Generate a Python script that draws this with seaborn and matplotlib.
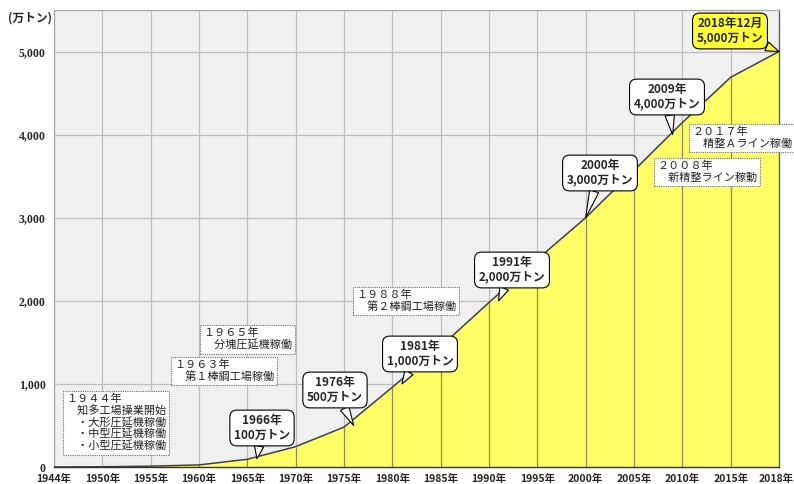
import numpy as np
import pandas as pd
import matplotlib
matplotlib.use("Agg")
import matplotlib.pyplot as plt
import matplotlib.transforms as mtransforms
import seaborn as sns

# ---------------- data ----------------
cat_years = [1944, 1950, 1955, 1960, 1965, 1970, 1975, 1980, 1985, 1990,
             1995, 2000, 2005, 2010, 2015, 2018]
cat_labels = [f"{y}年" for y in cat_years]
production = [0, 3, 10, 25, 93, 245, 480, 960, 1450, 1980,
              2500, 3000, 3570, 4145, 4690, 5000]   # 累計生産量 (万トン)

y_ticks = [0, 1000, 2000, 3000, 4000, 5000]

milestone_years = [1966, 1976, 1981, 1991, 2000, 2009, 2018]
milestone_values = [100, 500, 1000, 2000, 3000, 4000, 5000]
milestone_labels = ["1966年\n100万トン", "1976年\n500万トン", "1981年\n1,000万トン",
                    "1991年\n2,000万トン", "2000年\n3,000万トン", "2009年\n4,000万トン",
                    "2018年12月\n5,000万トン"]

event_labels = [
    "１９４４年\n　知多工場操業開始\n　・大形圧延機稼働\n　・中型圧延機稼働\n　・小型圧延機稼働",
    "１９６３年\n　第１棒鋼工場稼働",
    "１９６５年\n　分塊圧延機稼働",
    "１９８８年\n　第２棒鋼工場稼働",
    "２００８年\n　新精整ライン稼動",
    "２０１７年\n　精整Ａライン稼働",
]

# ---------------- layout (pixels, top-left origin) ----------------
W, H = 794, 484
callout_centers = [(262, 428), (335, 390), (420, 354), (512, 270),
                   (600, 173), (667, 97), (730, 31)]
event_topleft = [(66, 394), (174, 360), (203, 328), (356, 290), (657, 161), (692, 127)]

sns.set_theme(style="white")
plt.rcParams['font.family'] = ['Noto Sans CJK JP', 'DejaVu Sans']

fig = plt.figure(figsize=(W / 100, H / 100), dpi=100)
ax = fig.add_axes([54 / W, 17 / H, 725 / W, 457 / H])

df = pd.DataFrame({"x": np.arange(len(cat_years)), "v": production})

ax.set_facecolor("#F0F0F0")
ax.fill_between(df["x"], 0, df["v"], color="#FFFF66", zorder=2, lw=0)
ax.vlines(df["x"][1:-1], 0, df["v"][1:-1], color="#8C8C5C", lw=0.9, zorder=2.5)
sns.lineplot(data=df, x="x", y="v", color="#404040", lw=1.1, ax=ax, zorder=3)

ax.set_xlim(0, len(cat_years) - 1)
ax.set_ylim(0, 5500)
ax.set_xticks(df["x"])
ax.set_xticklabels(cat_labels, fontsize=7.5, fontweight="bold")
ax.set_yticks(y_ticks)
ax.set_yticklabels([f"{v:,}" for v in y_ticks], fontsize=8.5, fontweight="bold",
                   family=["Liberation Serif", "DejaVu Serif"])
ax.set_xlabel("")
ax.set_ylabel("")
ax.grid(True, color="#BEBEBE", lw=0.9)
ax.set_axisbelow(True)
ax.tick_params(axis="both", length=3, width=0.8, color="#808080", pad=2)
ax.tick_params(axis="y", pad=3)
for s in ["left", "top"]:
    ax.spines[s].set_color("#A8A8A8")
    ax.spines[s].set_linewidth(0.9)
ax.spines["right"].set_color("#606060")
ax.spines["right"].set_linewidth(1.0)
ax.spines["bottom"].set_color("#303030")
ax.spines["bottom"].set_linewidth(1.0)

# keep the last x label inside the canvas
last = ax.get_xticklabels()[-1]
last.set_transform(last.get_transform() +
                   mtransforms.ScaledTranslation(-3 / 100, 0, fig.dpi_scale_trans))

fig.text(30 / W, 1 - 18 / H, "(万トン)", ha="center", va="center",
         fontsize=8.5, fontweight="bold")


def year_pos(y):
    return float(np.interp(y, cat_years, df["x"]))


# callouts
for i, (yr, val, lab, (cx, cy)) in enumerate(zip(milestone_years, milestone_values,
                                                 milestone_labels, callout_centers)):
    fc = "#FFFF33" if i == len(milestone_years) - 1 else "white"
    ax.annotate(lab, xy=(year_pos(yr), val), xycoords="data",
                xytext=(cx, H - cy), textcoords="figure pixels",
                ha="center", va="center", fontsize=8.5, fontweight="bold",
                linespacing=1.15, zorder=6,
                bbox=dict(boxstyle="round,pad=0.35,rounding_size=0.6", fc=fc,
                          ec="black", lw=0.8),
                arrowprops=dict(arrowstyle="wedge,tail_width=0.8,shrink_factor=0.5",
                                fc=fc, ec="black", lw=0.8, shrinkA=0, shrinkB=0))

# event boxes
for lab, (lx, ty) in zip(event_labels, event_topleft):
    fig.text(lx / W, 1 - ty / H, lab, ha="left", va="top", fontsize=8,
             linespacing=1.1, color="#222222", zorder=7,
             bbox=dict(boxstyle="square,pad=0.3", fc="white", ec="#707070",
                       lw=0.8, ls=(0, (1, 1))))

fig.savefig("out.png", dpi=100)
